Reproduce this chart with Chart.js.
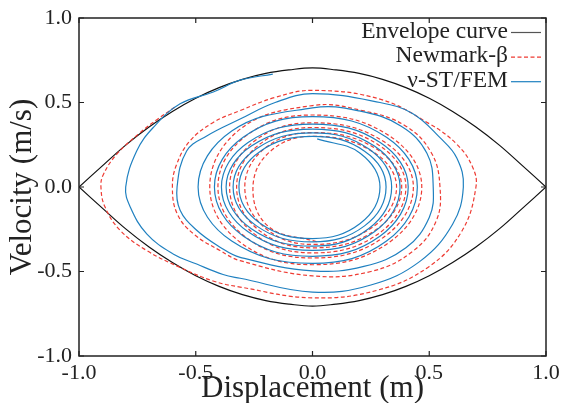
<!DOCTYPE html>
<html>
<head>
<meta charset="utf-8">
<script src="https://cdn.jsdelivr.net/npm/chart.js@4.4.0/dist/chart.umd.min.js"></script>
<style>
  html, body { margin: 0; padding: 0; background: #fff; }
</style>
</head>
<body>
<canvas id="phaseChart" width="561" height="403"></canvas>
<script>
// axis ticks
const tickValues = [-1, -0.5, 0, 0.5, 1]

// envelope curve (upper and lower branch)
const envX = [-1, -0.9, -0.8, -0.7, -0.6, -0.5, -0.4, -0.3, -0.2, -0.1, 0, 0.1, 0.2, 0.3, 0.4, 0.5, 0.6, 0.7, 0.8, 0.9, 1]
const envUpperV = [0, 0.125, 0.248, 0.355, 0.447, 0.525, 0.588, 0.637, 0.672, 0.693, 0.705, 0.693, 0.672, 0.637, 0.588, 0.525, 0.447, 0.355, 0.248, 0.125, 0]
const envLowerV = [0, -0.125, -0.248, -0.355, -0.447, -0.525, -0.588, -0.637, -0.672, -0.693, -0.705, -0.693, -0.672, -0.637, -0.588, -0.525, -0.447, -0.355, -0.248, -0.125, 0]

// Newmark-beta trajectory
const redX = [
  -0.59, -0.665, -0.738, -0.839, -0.896, -0.906, -0.889, -0.824, -0.71, -0.567, -0.426, -0.31, 0, 0.28, 0.5, 0.64, 0.7, 0.685, 0.618, 0.503, 0.289, 0,
  -0.16, -0.31, -0.425, -0.525, -0.582, -0.6, -0.58, -0.51, -0.396, -0.31, 0, 0.25, 0.43, 0.53, 0.546, 0.51, 0.4, 0.22, 0,
  -0.311, -0.44, -0.311, 0, 0.331, 0.468, 0.331, 0,
  -0.286, -0.405, -0.286, 0, 0.305, 0.432, 0.305, 0,
  -0.251, -0.355, -0.251, 0, 0.283, 0.4, 0.283, 0,
  -0.23, -0.325, -0.23, 0, 0.27, 0.382, 0.27, 0,
  -0.205, -0.29, -0.205, 0, 0.255, 0.36, 0.255, 0,
  -0.18, -0.255, -0.19, 0.02
]
const redV = [
  0.472, 0.4, 0.322, 0.193, 0.073, 0, -0.117, -0.256, -0.376, -0.476, -0.556, -0.592, -0.656, -0.61, -0.47, -0.26, 0, 0.12, 0.253, 0.372, 0.52, 0.572,
  0.53, 0.452, 0.382, 0.272, 0.133, 0, -0.157, -0.277, -0.376, -0.436, -0.526, -0.5, -0.38, -0.2, 0, 0.2, 0.36, 0.45, 0.482,
  0.341, 0, -0.325, -0.46, -0.325, 0, 0.301, 0.426,
  0.301, 0, -0.297, -0.42, -0.297, 0, 0.269, 0.38,
  0.269, 0, -0.276, -0.39, -0.276, 0, 0.249, 0.352,
  0.249, 0, -0.255, -0.36, -0.255, 0, 0.228, 0.322,
  0.228, 0, -0.24, -0.34, -0.24, 0, 0.212, 0.3,
  0.212, 0, -0.232, -0.325
]

// v-ST/FEM trajectory
const blueX = [
  -0.17, -0.31, -0.425, -0.567, -0.682, -0.753, -0.8, -0.78, -0.71, -0.597, -0.496, -0.383, -0.31, 0, 0.25, 0.46, 0.6, 0.646, 0.618, 0.546, 0.43, 0.289, 0,
  -0.16, -0.31, -0.453, -0.539, -0.58, -0.567, -0.496, -0.396, -0.31, 0, 0.22, 0.4, 0.5, 0.517, 0.49, 0.38, 0.2, 0,
  -0.346, -0.49, -0.346, 0, 0.317, 0.449, 0.317, 0,
  -0.297, -0.42, -0.297, 0, 0.29, 0.41, 0.29, 0,
  -0.276, -0.39, -0.276, 0, 0.265, 0.375, 0.265, 0,
  -0.262, -0.37, -0.262, 0, 0.24, 0.339, 0.24, 0,
  -0.24, -0.34, -0.24, 0, 0.223, 0.315, 0.223, 0,
  -0.223, -0.315, -0.223, 0, 0.204, 0.289, 0.204, 0.02
]
const blueV = [
  0.668, 0.632, 0.562, 0.492, 0.352, 0.213, 0, -0.12, -0.277, -0.396, -0.456, -0.518, -0.54, -0.622, -0.58, -0.44, -0.22, 0, 0.172, 0.292, 0.434, 0.5, 0.552,
  0.5, 0.402, 0.302, 0.213, 0, -0.137, -0.256, -0.356, -0.416, -0.496, -0.47, -0.36, -0.18, 0, 0.2, 0.36, 0.45, 0.468,
  0.331, 0, -0.32, -0.452, -0.32, 0, 0.294, 0.416,
  0.294, 0, -0.29, -0.41, -0.29, 0, 0.263, 0.372,
  0.263, 0, -0.265, -0.375, -0.265, 0, 0.242, 0.343,
  0.242, 0, -0.247, -0.35, -0.247, 0, 0.226, 0.32,
  0.226, 0, -0.23, -0.325, -0.23, 0, 0.212, 0.3,
  0.212, 0, -0.216, -0.305, -0.216, 0, 0.2, 0.285
]

const legendItems = [
  { label: "Envelope curve", color: "#555", dash: [] },
  { label: "Newmark-β", color: "#ee3b33", dash: [4, 2.5] },
  { label: "ν-ST/FEM", color: "#1f80c0", dash: [] },
]

const toPoints = (xs, vs) => xs.map((x, i) => ({ x: x, y: vs[i] }))

// frame, inward ticks and legend
const framePlugin = {
  id: "frame",
  afterDraw(chart) {
    const ctx = chart.ctx
    const a = chart.chartArea
    const xs = chart.scales.x
    const ys = chart.scales.y
    ctx.save()
    ctx.strokeStyle = "#222"
    ctx.lineWidth = 1.5
    ctx.strokeRect(a.left, a.top, a.right - a.left, a.bottom - a.top)
    ctx.lineWidth = 1.2
    ctx.beginPath()
    tickValues.forEach(t => {
      const px = xs.getPixelForValue(t)
      const py = ys.getPixelForValue(t)
      ctx.moveTo(px, a.bottom); ctx.lineTo(px, a.bottom - 5)
      ctx.moveTo(px, a.top); ctx.lineTo(px, a.top + 5)
      ctx.moveTo(a.left, py); ctx.lineTo(a.left + 5, py)
      ctx.moveTo(a.right, py); ctx.lineTo(a.right - 5, py)
    })
    ctx.stroke()

    ctx.font = "23.5px 'Liberation Serif'"
    ctx.textAlign = "right"
    ctx.textBaseline = "alphabetic"
    legendItems.forEach((item, i) => {
      const base = 37.5 + i * 24.6
      ctx.fillStyle = "#222"
      ctx.fillText(item.label, 508, base)
      ctx.strokeStyle = item.color
      ctx.lineWidth = 1.2
      ctx.setLineDash(item.dash)
      ctx.beginPath()
      ctx.moveTo(511, base - 5)
      ctx.lineTo(541, base - 5)
      ctx.stroke()
    })
    ctx.restore()
  },
}

new Chart(document.getElementById("phaseChart"), {
  type: "scatter",
  data: {
    datasets: [
      {
        label: "ν-ST/FEM",
        data: toPoints(blueX, blueV),
        showLine: true,
        borderColor: "#1f80c0",
        borderWidth: 1.2,
        tension: 0.4,
        pointRadius: 0,
      },
      {
        label: "Newmark-β",
        data: toPoints(redX, redV),
        showLine: true,
        borderColor: "#ee3b33",
        borderWidth: 1.2,
        borderDash: [4, 2.5],
        tension: 0.4,
        pointRadius: 0,
      },
      {
        label: "Envelope curve",
        data: toPoints(envX, envUpperV),
        showLine: true,
        borderColor: "#111",
        borderWidth: 1.2,
        tension: 0.4,
        pointRadius: 0,
      },
      {
        label: "Envelope lower",
        data: toPoints(envX, envLowerV),
        showLine: true,
        borderColor: "#111",
        borderWidth: 1.2,
        tension: 0.4,
        pointRadius: 0,
      },
    ],
  },
  options: {
    responsive: false,
    animation: false,
    layout: { padding: { top: 18, right: 15, left: 0, bottom: 0 } },
    plugins: {
      legend: { display: false },
      tooltip: { enabled: false },
    },
    scales: {
      x: {
        type: "linear",
        min: -1,
        max: 1,
        afterFit: scale => {
          scale.height = 47
          scale.paddingLeft = 0
          scale.paddingRight = 0
        },
        afterBuildTicks: scale => { scale.ticks = tickValues.map(v => ({ value: v })) },
        grid: { display: false, drawTicks: false },
        border: { display: false },
        ticks: {
          padding: 4,
          color: "#222",
          font: { family: "'Liberation Serif'", size: 22 },
          callback: v => v.toFixed(1),
        },
        title: {
          display: true,
          text: "Displacement (m)",
          color: "#222",
          font: { family: "'Liberation Serif'", size: 31 },
          padding: { top: 0, bottom: -4 },
        },
      },
      y: {
        type: "linear",
        min: -1,
        max: 1,
        afterFit: scale => {
          scale.width = 79
          scale.paddingTop = 0
          scale.paddingBottom = 0
        },
        afterBuildTicks: scale => { scale.ticks = tickValues.map(v => ({ value: v })) },
        grid: { display: false, drawTicks: false },
        border: { display: false },
        ticks: {
          padding: 7,
          color: "#222",
          font: { family: "'Liberation Serif'", size: 22 },
          callback: v => v.toFixed(1),
        },
        title: {
          display: true,
          text: "Velocity (m/s)",
          color: "#222",
          font: { family: "'Liberation Serif'", size: 31 },
          padding: { top: 4, bottom: 0 },
        },
      },
    },
  },
  plugins: [framePlugin],
})
</script>
</body>
</html>
